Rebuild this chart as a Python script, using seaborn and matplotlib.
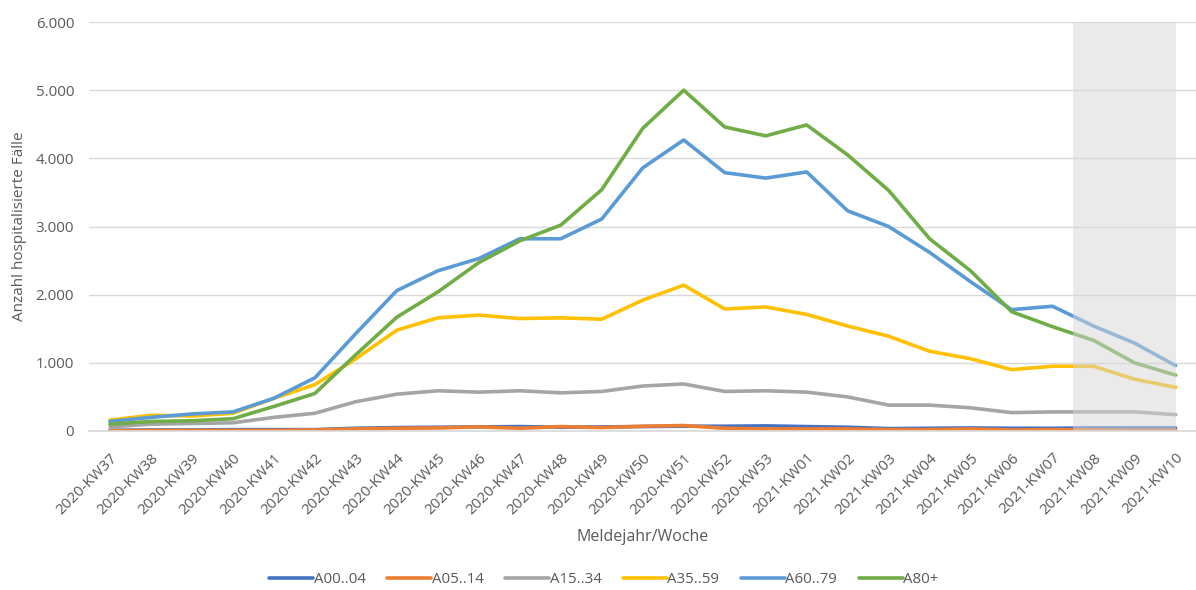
import numpy as np
import pandas as pd
import matplotlib
matplotlib.use("Agg")
import matplotlib.pyplot as plt
import seaborn as sns
from matplotlib.ticker import FuncFormatter
from matplotlib.lines import Line2D

weeks = ["2020-KW37", "2020-KW38", "2020-KW39", "2020-KW40", "2020-KW41", "2020-KW42",
         "2020-KW43", "2020-KW44", "2020-KW45", "2020-KW46", "2020-KW47", "2020-KW48",
         "2020-KW49", "2020-KW50", "2020-KW51", "2020-KW52", "2020-KW53", "2021-KW01",
         "2021-KW02", "2021-KW03", "2021-KW04", "2021-KW05", "2021-KW06", "2021-KW07",
         "2021-KW08", "2021-KW09", "2021-KW10"]

a00_04 = [10, 15, 15, 20, 20, 20, 40, 50, 55, 60, 65, 55, 60, 65, 70, 70, 75, 65,
          55, 35, 40, 45, 40, 40, 45, 45, 45]
a05_14 = [5, 8, 10, 10, 10, 15, 30, 40, 45, 60, 40, 65, 50, 70, 80, 40, 30, 30,
          30, 20, 20, 30, 15, 20, 15, 10, 10]
a15_34 = [60, 100, 110, 120, 200, 260, 430, 540, 590, 570, 590, 560, 580, 660, 690,
          580, 590, 570, 500, 380, 380, 340, 270, 280, 280, 280, 240]
a35_59 = [160, 230, 220, 260, 480, 680, 1060, 1480, 1660, 1700, 1650, 1660, 1640,
          1920, 2140, 1790, 1820, 1710, 1540, 1390, 1170, 1060, 900, 950, 950, 760, 640]
a60_79 = [140, 200, 250, 280, 480, 780, 1430, 2060, 2350, 2530, 2820, 2820, 3110,
          3860, 4270, 3790, 3710, 3800, 3230, 3000, 2620, 2190, 1780, 1830, 1540, 1290, 960]
a80p = [100, 140, 150, 180, 360, 550, 1120, 1670, 2040, 2470, 2790, 3020, 3540,
        4440, 5000, 4460, 4330, 4490, 4050, 3530, 2820, 2350, 1750, 1530, 1330, 1000, 820]

series_names = ["A00..04", "A05..14", "A15..34", "A35..59", "A60..79", "A80+"]
series_values = [a00_04, a05_14, a15_34, a35_59, a60_79, a80p]
colors = ["#4472C4", "#ED7D31", "#A5A5A5", "#FFC000", "#5B9BD5", "#70AD47"]

rows = []
for name, vals in zip(series_names, series_values):
    for i, v in enumerate(vals):
        rows.append({"idx": i, "Woche": weeks[i], "Altersgruppe": name, "Faelle": v})
df = pd.DataFrame(rows)

sns.set_theme(style="white")
plt.rcParams["font.family"] = ["Open Sans", "DejaVu Sans"]

fig = plt.figure(figsize=(11.96, 5.90), dpi=100)
ax = fig.add_axes([0.0748, 0.2695, 0.9252, 0.6932])

sns.lineplot(data=df, x="idx", y="Faelle", hue="Altersgruppe", hue_order=series_names,
             palette=colors, linewidth=2.6, ax=ax, legend=False,
             solid_capstyle="round", solid_joinstyle="round")

# grey shaded region drawn on top of the lines
ax.axvspan(23.5, 26.0, color="#D6D6D6", alpha=0.5, zorder=5, lw=0)

ax.set_xlim(-0.5, 26.5)
ax.set_ylim(0, 6000)
ax.set_yticks(np.arange(0, 6001, 1000))
ax.yaxis.set_major_formatter(FuncFormatter(lambda v, p: f"{int(v):,}".replace(",", ".")))
ax.set_xticks(range(len(weeks)))
ax.set_xticklabels(weeks, rotation=45, ha="right", rotation_mode="anchor")
ax.grid(axis="y", color="#D9D9D9", linewidth=1)
ax.set_axisbelow(True)
for s in ["top", "right", "left"]:
    ax.spines[s].set_visible(False)
ax.spines["bottom"].set_color("#D9D9D9")
ax.tick_params(axis="both", length=0, colors="#595959", labelsize=10.8)
ax.tick_params(axis="x", pad=14)
ax.tick_params(axis="y", pad=11)
ax.set_xlabel("Meldejahr/Woche", color="#595959", fontsize=11.5, labelpad=8)
ax.set_ylabel("Anzahl hospitalisierte Fälle", color="#595959", fontsize=11, labelpad=6)

handles = [Line2D([0], [0], color=c, lw=2.6, solid_capstyle="round") for c in colors]
fig.legend(handles, series_names, loc="center", bbox_to_anchor=(0.505, 0.017),
           ncol=6, frameon=False, fontsize=10.8, handlelength=2.9, handletextpad=0.05,
           columnspacing=1.45, labelcolor="#595959")

fig.savefig("out.png", dpi=100)
